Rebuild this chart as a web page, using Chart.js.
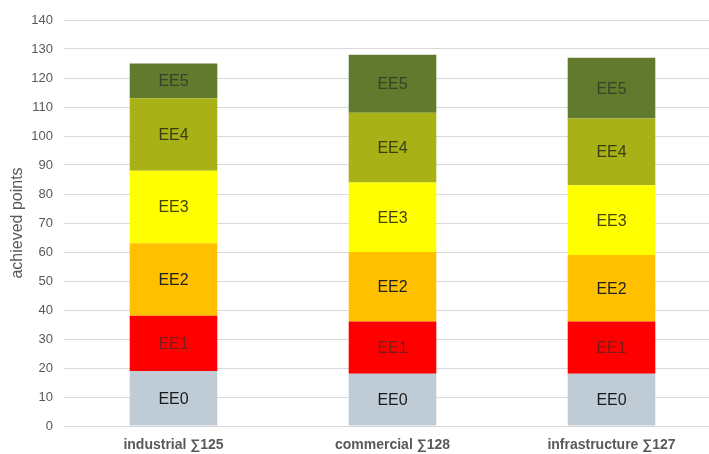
<!DOCTYPE html>
<html>
<head>
<meta charset="utf-8">
<script src="https://cdn.jsdelivr.net/npm/chart.js@4/dist/chart.umd.min.js"></script>
<style>
    html, body { margin: 0; padding: 0; background: #fff; overflow: hidden; }
    #wrap { width: 721px; height: 454px; position: relative; }
</style>
</head>
<body>
<div id="wrap"><canvas id="points-chart"></canvas></div>
<script>
// Категории и точки по нива EE0..EE5
const categories = ['industrial', 'commercial', 'infrastructure'];
const levels = ['EE0', 'EE1', 'EE2', 'EE3', 'EE4', 'EE5'];
const ee0 = [19, 18, 18];
const ee1 = [19, 18, 18];
const ee2 = [25, 24, 23];
const ee3 = [25, 24, 24];
const ee4 = [25, 24, 23];
const ee5 = [12, 20, 21];
const yTicks = [0, 10, 20, 30, 40, 50, 60, 70, 80, 90, 100, 110, 120, 130, 140];

const series = [ee0, ee1, ee2, ee3, ee4, ee5];
const fillColors = ['#BFCCD6', '#FF0000', '#FFC000', '#FFFF00', '#A8B116', '#627A2E'];
const textColors = ['#1a1a1a', '#7a1c1c', '#222222', '#45450f', '#3a3e12', '#364326'];

// Сума за всяка категория - показва се в етикета на оста
const totals = categories.map((c, i) => series.reduce((s, arr) => s + arr[i], 0));
const xLabels = categories.map((c, i) => `${c} \u2211${totals[i]}`);

// Надписи в средата на всеки сегмент
const segmentLabels = {
    id: 'segmentLabels',
    afterDatasetsDraw(chart) {
        const ctx = chart.ctx;
        ctx.save();
        ctx.font = '16px "Liberation Sans", Arial, sans-serif';
        ctx.textAlign = 'center';
        ctx.textBaseline = 'middle';
        chart.data.datasets.forEach((ds, di) => {
            chart.getDatasetMeta(di).data.forEach(bar => {
                const mid = (bar.y + bar.base) / 2;
                ctx.fillStyle = textColors[di];
                ctx.fillText(ds.label, bar.x, mid + 1);
            });
        });
        ctx.restore();
    }
};

new Chart(document.getElementById('points-chart'), {
    type: 'bar',
    data: {
        labels: xLabels,
        datasets: levels.map((name, i) => ({
            label: name,
            data: series[i],
            backgroundColor: fillColors[i],
            borderWidth: 0,
            categoryPercentage: 0.8,
            barPercentage: 0.5
        }))
    },
    options: {
        responsive: true,
        maintainAspectRatio: false,
        animation: false,
        layout: { padding: { top: 20, left: 0, right: 0, bottom: 0 } },
        plugins: {
            legend: { display: false },
            tooltip: { enabled: false }
        },
        scales: {
            x: {
                stacked: true,
                grid: { display: false, drawTicks: false },
                border: { display: false },
                ticks: {
                    color: '#595959',
                    padding: 11,
                    font: { family: '"Liberation Sans", Arial, sans-serif', size: 14, weight: 'bold' }
                },
                afterFit: scale => { scale.height = 28; }
            },
            y: {
                stacked: true,
                min: 0,
                max: 140,
                afterBuildTicks: scale => { scale.ticks = yTicks.map(v => ({ value: v })); },
                grid: { color: '#D9D9D9', lineWidth: 1, drawTicks: false },
                border: { display: false },
                ticks: {
                    color: '#595959',
                    padding: 11,
                    font: { family: '"Liberation Sans", Arial, sans-serif', size: 13 }
                },
                title: {
                    display: true,
                    text: 'achieved points',
                    color: '#595959',
                    padding: { top: 8, bottom: 0 },
                    font: { family: '"Liberation Sans", Arial, sans-serif', size: 16 }
                },
                afterFit: scale => { scale.width = 64; }
            }
        }
    },
    plugins: [segmentLabels]
});
</script>
</body>
</html>
